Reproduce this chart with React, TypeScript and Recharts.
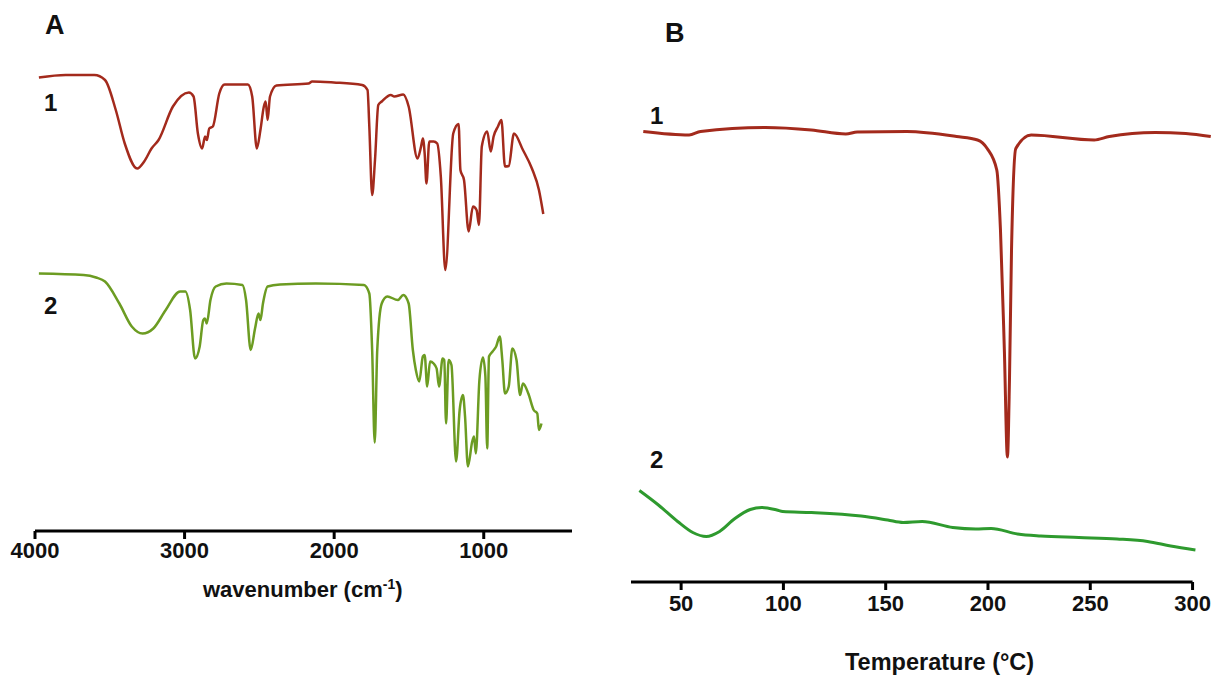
import { LineChart, Line, XAxis, YAxis, ReferenceLine } from "recharts";

// Panel A: FTIR spectra (wavenumber cm-1, transmittance in arbitrary units)
const irWave1 = [3974, 3795, 3603, 3532, 3460, 3400, 3317, 3270, 3221, 3174, 3078, 2971, 2940, 2911, 2883, 2863, 2851, 2835, 2811, 2768, 2732, 2577, 2548, 2517, 2493, 2470, 2458, 2445, 2429, 2386, 2171, 2147, 2003, 1813, 1777, 1765, 1746, 1727, 1705, 1682, 1621, 1598, 1538, 1502, 1443, 1419, 1407, 1395, 1383, 1364, 1335, 1311, 1287, 1257, 1204, 1168, 1156, 1132, 1101, 1072, 1048, 1032, 1013, 977, 953, 934, 905, 882, 858, 833, 798, 738, 678, 631, 602];
const irT1 = [90.7, 91.2, 91.2, 90.2, 84.2, 77.5, 72.5, 73.9, 76.5, 78.2, 84.9, 87.7, 86.9, 79.5, 76.5, 78.9, 78.2, 80.5, 80.9, 87.5, 89.3, 89.3, 86.9, 76.5, 80.2, 84.9, 85.9, 82.2, 86.9, 89.1, 89.5, 89.9, 89.7, 89.2, 88.2, 80.9, 67.2, 74.2, 85.2, 85.9, 87.2, 86.9, 87.3, 84.9, 74.5, 76.9, 78.5, 75.5, 69.5, 77.9, 77.9, 77.5, 70.9, 52.2, 79.5, 81.4, 72.2, 70.2, 59.9, 64.9, 64.2, 61.2, 76.9, 79.9, 75.9, 78.9, 80.9, 82.2, 72.9, 73, 79.5, 76.2, 72.5, 68.2, 63.4];

const irWave2 = [3974, 3675, 3592, 3532, 3436, 3353, 3281, 3209, 3126, 3030, 2995, 2963, 2930, 2899, 2875, 2864, 2852, 2827, 2792, 2720, 2613, 2589, 2558, 2529, 2506, 2493, 2476, 2445, 2362, 2123, 1801, 1765, 1746, 1729, 1712, 1682, 1645, 1574, 1538, 1502, 1474, 1454, 1431, 1407, 1395, 1378, 1359, 1335, 1315, 1299, 1275, 1264, 1252, 1235, 1216, 1185, 1161, 1139, 1125, 1106, 1077, 1065, 1053, 1029, 1005, 989, 977, 965, 941, 917, 893, 876, 858, 833, 809, 781, 757, 738, 702, 666, 642, 631, 614];
const irT2 = [51.5, 51.2, 50.7, 49.9, 45.5, 40.9, 39.5, 40.5, 44.2, 47.9, 47.9, 44.2, 34.5, 36.9, 42.2, 42.5, 41.5, 46.2, 48.9, 49.5, 49.2, 46.2, 36.2, 40.5, 43.5, 42.2, 45.5, 48.9, 49.3, 49.5, 49.2, 47.5, 36.2, 17.7, 36.2, 45.5, 46.9, 46.2, 47.2, 45.5, 36.2, 32.2, 29.9, 34.9, 35.2, 28.9, 33.9, 33.5, 32.5, 28.9, 34.5, 34.2, 21.5, 34.2, 33.2, 13.9, 24.2, 27.2, 22.9, 12.9, 17.9, 18.9, 15.5, 30.2, 34.7, 30.9, 16.5, 34.9, 35.9, 36.9, 38.9, 34.2, 27.5, 28.9, 36.5, 34.2, 27.2, 29.5, 27.5, 24.2, 23.5, 20.2, 21.5];

const irTicks = [4000, 3000, 2000, 1000];

// Panel B: DSC thermograms (temperature °C, heat flow in arbitrary units)
const dscTemp1 = [31.5, 53.9, 59.5, 91.2, 113.7, 130.5, 136.1, 160.4, 184.6, 194.9, 199.6, 204.3, 206.1, 208, 209.5, 210.5, 211.5, 213.6, 221.1, 251.9, 259.3, 281.7, 296.7, 308.9];
const dscFlow1 = [90.1, 89.4, 90.1, 90.9, 90.4, 89.6, 90, 90.1, 89.1, 88.4, 86.7, 82.4, 70.4, 46.4, 25, 40.4, 66.4, 86.7, 89.4, 88.4, 89.1, 89.9, 89.7, 89.1];

const dscTemp2 = [29.6, 38.9, 48.3, 55.7, 62.3, 68.8, 76.3, 83.8, 89.4, 96.8, 99.7, 113.7, 138, 151, 158.5, 167.8, 182.8, 194, 201.5, 214.5, 225.8, 244.4, 263.1, 278, 289.3, 301.4];
const dscFlow2 = [18.3, 15.4, 12.1, 9.9, 9.1, 10.1, 12.7, 14.5, 14.9, 14.4, 14.1, 13.9, 13.2, 12.4, 11.9, 12.1, 10.9, 10.6, 10.7, 9.6, 9.2, 8.9, 8.6, 8.1, 7.2, 6.4];

const dscTicks = [50, 100, 150, 200, 250, 300];

const zip = (xs: number[], ys: number[]) => xs.map((x, i) => ({ x, y: ys[i] }));

const font = "'Liberation Sans', Arial, sans-serif";

const BoldTick = (props: any) => (
  <text x={props.x} y={props.y} dy={17} textAnchor="middle" fill="#111" fontSize={22} fontWeight={700} fontFamily={font}>
    {props.payload.value}
  </text>
);

const label = (text: string, left: number, top: number, size: number) => (
  <div style={{ position: "absolute", left, top, fontFamily: font, fontWeight: 700, fontSize: size, lineHeight: 1, color: "#111" }}>
    {text}
  </div>
);

export default function App() {
  return (
    <div style={{ position: "absolute", left: 0, top: 0, width: 1217, height: 677, background: "#fff", overflow: "hidden" }}>
      <div style={{ position: "absolute", left: 0, top: 0 }}>
        <LineChart width={600} height={620} margin={{ top: 31, right: 28, left: 35, bottom: 29 }}>
          <XAxis
            type="number"
            dataKey="x"
            domain={[410, 4000]}
            reversed
            ticks={irTicks}
            allowDataOverflow
            height={60}
            axisLine={{ stroke: "#000", strokeWidth: 3 }}
            tickLine={{ stroke: "#000", strokeWidth: 3 }}
            tickSize={8}
            tickMargin={2}
            tick={BoldTick}
          />
          <YAxis type="number" domain={[0, 100]} hide />
          <Line data={zip(irWave1, irT1)} dataKey="y" stroke="#a32a1c" strokeWidth={2.5} dot={false} type="monotone" isAnimationActive={false} />
          <Line data={zip(irWave2, irT2)} dataKey="y" stroke="#6c9c22" strokeWidth={2.5} dot={false} type="monotone" isAnimationActive={false} />
        </LineChart>
      </div>
      <div style={{ position: "absolute", left: 600, top: 0 }}>
        <LineChart width={617} height={677} margin={{ top: 82, right: 5, left: 31, bottom: 45 }}>
          <XAxis
            type="number"
            dataKey="x"
            domain={[25.5, 309.5]}
            ticks={dscTicks}
            allowDataOverflow
            height={50}
            axisLine={false}
            tickLine={{ stroke: "#000", strokeWidth: 3 }}
            tickSize={8}
            tickMargin={4}
            tick={BoldTick}
          />
          <YAxis type="number" domain={[0, 100]} hide />
          <ReferenceLine segment={[{ x: 25.5, y: 0 }, { x: 300, y: 0 }]} stroke="#000" strokeWidth={3} ifOverflow="visible" />
          <Line data={zip(dscTemp1, dscFlow1)} dataKey="y" stroke="#a32a1c" strokeWidth={3} dot={false} type="monotone" isAnimationActive={false} />
          <Line data={zip(dscTemp2, dscFlow2)} dataKey="y" stroke="#2e9a2e" strokeWidth={3} dot={false} type="monotone" isAnimationActive={false} />
        </LineChart>
      </div>
      {label("A", 45, 12, 27)}
      {label("1", 44, 91, 24)}
      {label("2", 44, 294, 24)}
      {label("B", 665, 20, 27)}
      {label("1", 650, 104, 24)}
      {label("2", 650, 448, 24)}
      <div style={{ position: "absolute", left: 203, top: 576, fontFamily: font, fontWeight: 700, fontSize: 22, color: "#111" }}>
        wavenumber (cm<sup style={{ fontSize: 14 }}>-1</sup>)
      </div>
      <div style={{ position: "absolute", left: 845, top: 649, fontFamily: font, fontWeight: 700, fontSize: 23.5, color: "#111" }}>
        Temperature (°C)
      </div>
    </div>
  );
}
